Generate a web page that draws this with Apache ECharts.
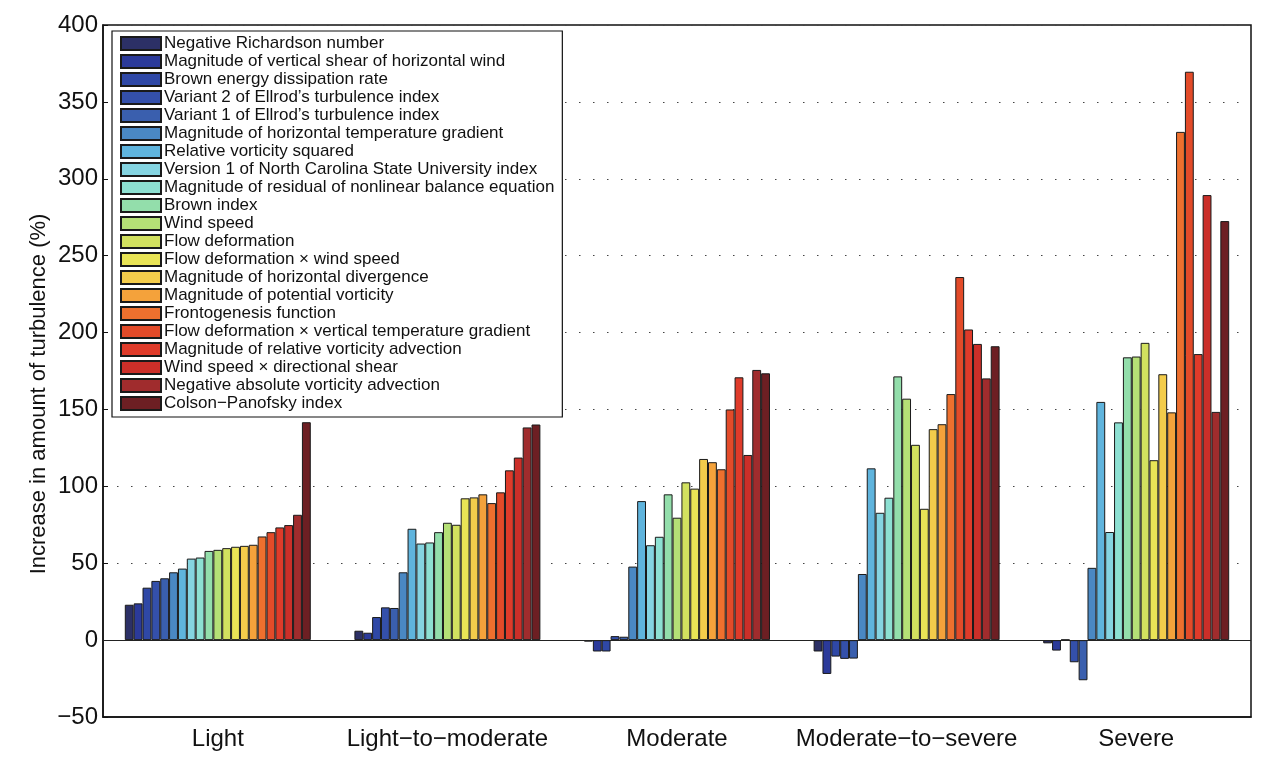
<!DOCTYPE html>
<html>
<head>
<meta charset="utf-8">
<script src="https://cdn.jsdelivr.net/npm/echarts@6/dist/echarts.min.js"></script>
<style>
  html, body { margin: 0; padding: 0; background: #fff; }
  #chart { width: 1286px; height: 774px; }
</style>
</head>
<body>
<div id="chart"></div>
<script>
// categories on the x axis
var categories = ['Light', 'Light\u2212to\u2212moderate', 'Moderate', 'Moderate\u2212to\u2212severe', 'Severe'];

// one entry per diagnostic (legend order)
var seriesNames = [
  'Negative Richardson number',
  'Magnitude of vertical shear of horizontal wind',
  'Brown energy dissipation rate',
  'Variant 2 of Ellrod\u2019s turbulence index',
  'Variant 1 of Ellrod\u2019s turbulence index',
  'Magnitude of horizontal temperature gradient',
  'Relative vorticity squared',
  'Version 1 of North Carolina State University index',
  'Magnitude of residual of nonlinear balance equation',
  'Brown index',
  'Wind speed',
  'Flow deformation',
  'Flow deformation \u00d7 wind speed',
  'Magnitude of horizontal divergence',
  'Magnitude of potential vorticity',
  'Frontogenesis function',
  'Flow deformation \u00d7 vertical temperature gradient',
  'Magnitude of relative vorticity advection',
  'Wind speed \u00d7 directional shear',
  'Negative absolute vorticity advection',
  'Colson\u2212Panofsky index'
];

var colors = [
  '#2c3066', '#2b3a9a', '#2f48a6', '#3450aa', '#3a5fae', '#4a88c3', '#5fb4dd',
  '#85d4e1', '#8de0d2', '#93deab', '#b5e076', '#d2e15f', '#e9e456', '#f3cc4b',
  '#f4a23b', '#ee702e', '#e34b29', '#df3b2a', '#cb2f29', '#a02c2d', '#6d1f23'
];

// increase in amount of turbulence (%), per category, same order as seriesNames
var light = [23.0, 23.9, 34.1, 38.5, 40.2, 44.1, 46.5, 53.0, 53.7, 58.0, 58.7, 59.8, 60.7, 61.3, 62.0, 67.4, 70.2, 73.3, 74.8, 81.5, 141.7];
var lightToModerate = [6.1, 4.8, 15.0, 21.3, 20.9, 44.1, 72.4, 62.8, 63.5, 70.2, 76.3, 75.0, 92.2, 92.8, 94.8, 89.1, 96.1, 110.4, 118.7, 138.3, 140.2];
var moderate = [-1.0, -7.4, -7.4, 2.6, 2.2, 47.8, 90.4, 61.7, 67.2, 94.8, 79.6, 102.6, 98.5, 117.8, 115.7, 111.1, 150.0, 170.9, 120.4, 175.7, 173.5];
var moderateToSevere = [-7.4, -22.0, -10.7, -12.2, -12.0, 43.0, 111.7, 82.8, 92.6, 171.5, 157.0, 127.0, 85.4, 137.2, 140.4, 160.0, 236.1, 202.0, 192.6, 170.2, 191.1];
var severe = [-2.1, -6.8, 0.3, -14.4, -26.1, 47.0, 154.9, 70.3, 141.6, 183.9, 184.4, 193.3, 117.0, 172.9, 148.1, 330.5, 369.6, 186.0, 289.4, 148.4, 272.5];

var groups = [light, lightToModerate, moderate, moderateToSevere, severe];

var font = 'Liberation Sans, Arial, Helvetica, sans-serif';

var series = seriesNames.map(function (name, i) {
  var s = {
    name: name,
    type: 'bar',
    barGap: '0%',
    barCategoryGap: '19%',
    data: groups.map(function (g) { return g[i]; }),
    itemStyle: { color: colors[i], borderColor: '#1a1a1a', borderWidth: 1 }
  };
  if (i === 0) {
    // baseline at zero
    s.markLine = {
      silent: true,
      symbol: 'none',
      label: { show: false },
      lineStyle: { color: '#222', type: 'solid', width: 1 },
      data: [{ yAxis: 0 }]
    };
  }
  return s;
});

var myChart = echarts.init(document.getElementById('chart'));
var option = {
  animation: false,
  backgroundColor: '#fff',
  grid: {
    left: 103, right: 35, top: 25, bottom: 57,
    show: true, borderColor: '#111', borderWidth: 1.5
  },
  legend: {
    orient: 'vertical',
    left: 112, top: 31,
    selectedMode: false,
    itemWidth: 40, itemHeight: 13, itemGap: 1,
    padding: [4, 8, 5, 8],
    backgroundColor: '#fff',
    borderColor: '#111', borderWidth: 1.2, borderRadius: 0,
    icon: 'rect',
    textStyle: { fontFamily: font, fontSize: 17, color: '#111', padding: [0, 0, 0, -2] },
    data: seriesNames
  },
  xAxis: {
    type: 'category',
    data: categories,
    axisLine: { onZero: false, lineStyle: { color: '#111', width: 1.5 } },
    axisTick: { show: false },
    axisLabel: { interval: 0, fontFamily: font, fontSize: 24, color: '#111', margin: 10 },
    splitLine: { show: false }
  },
  yAxis: {
    type: 'value',
    min: -50, max: 400, interval: 50,
    name: 'Increase in amount of turbulence (%)',
    nameLocation: 'middle',
    nameGap: 53,
    nameMoveOverlap: false,
    nameTextStyle: { fontFamily: font, fontSize: 22, color: '#111', padding: [0, 46, 0, 0] },
    axisLine: { show: true, lineStyle: { color: '#111', width: 1.5 } },
    axisTick: { show: true, inside: true, length: 5, lineStyle: { color: '#111' } },
    axisLabel: {
      fontFamily: font, fontSize: 24, color: '#111', margin: 5,
      formatter: function (v) { return String(v).replace('-', '\u2212'); }
    },
    splitLine: { show: true, lineStyle: { color: '#444', type: [1.5, 12.5], width: 1.2 } }
  },
  series: series
};
myChart.setOption(option);
</script>
</body>
</html>
